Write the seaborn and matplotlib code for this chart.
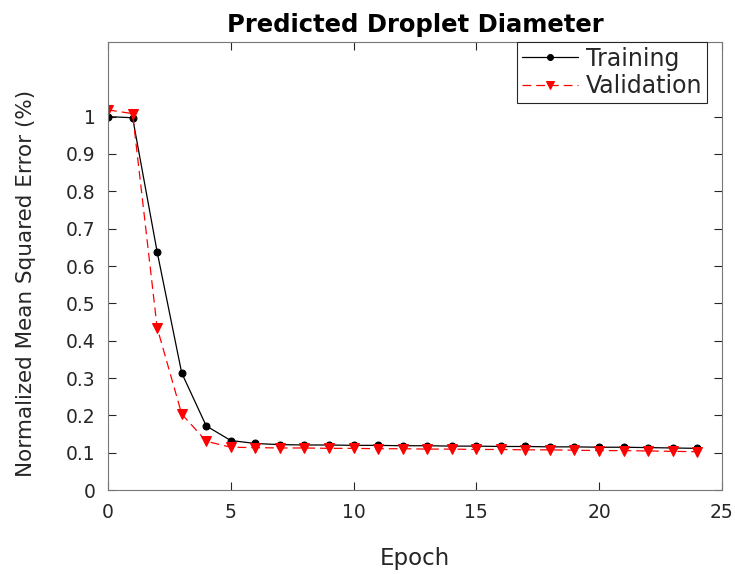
import numpy as np
import pandas as pd
import matplotlib
matplotlib.use("Agg")
import matplotlib.pyplot as plt
import seaborn as sns

epochs = list(range(25))
training = [1.0, 0.997, 0.638, 0.314, 0.172, 0.133, 0.125, 0.122, 0.121, 0.121, 0.120, 0.120,
            0.119, 0.119, 0.118, 0.118, 0.117, 0.117, 0.116, 0.116, 0.115, 0.115, 0.114, 0.113, 0.112]
validation = [1.018, 1.008, 0.435, 0.204, 0.131, 0.115, 0.114, 0.113, 0.113, 0.112, 0.112, 0.111,
              0.111, 0.110, 0.110, 0.109, 0.109, 0.108, 0.108, 0.107, 0.106, 0.106, 0.105, 0.104, 0.103]

df = pd.DataFrame({"Epoch": epochs * 2,
                   "Error": training + validation,
                   "Series": ["Training"] * 25 + ["Validation"] * 25})

sns.set_style("white")
plt.rcParams['font.family'] = ['DejaVu Sans']

fig = plt.figure(figsize=(7.35, 5.74), dpi=100)
ax = fig.add_axes([0.147, 0.146, 0.835, 0.781])

sns.lineplot(data=df[df.Series == "Training"], x="Epoch", y="Error", ax=ax,
             color="black", linewidth=0.9, marker="o", markersize=5,
             markeredgecolor="black", label="Training")
sns.lineplot(data=df[df.Series == "Validation"], x="Epoch", y="Error", ax=ax,
             color="#ff0000", linewidth=0.9, linestyle=(0, (7, 4)), marker="v", markersize=7,
             markeredgecolor="#ff0000", label="Validation")

ax.set_xlim(0, 25)
ax.set_ylim(0, 1.2)
ax.set_xticks([0, 5, 10, 15, 20, 25])
ax.set_yticks(np.round(np.arange(0, 1.01, 0.1), 1))
ax.set_yticklabels(["0", "0.1", "0.2", "0.3", "0.4", "0.5", "0.6", "0.7", "0.8", "0.9", "1"])
ax.tick_params(direction="in", length=6, width=0.8, color="#262626", labelsize=13.5,
               labelcolor="#262626", top=True, right=True, left=True, bottom=True, pad=9)
for s in ax.spines.values():
    s.set_visible(True)
    s.set_color("#777777")
    s.set_linewidth(0.8)

ax.set_xlabel("Epoch", fontsize=16.5, color="#262626", labelpad=18)
ax.set_ylabel("Normalized Mean Squared Error (%)", fontsize=15.5, color="#262626")
ax.yaxis.set_label_coords(-0.117, 0.462)
ax.set_title("Predicted Droplet Diameter", fontsize=17.5, fontweight="bold", color="black", pad=7)

leg = ax.legend(loc="upper right", bbox_to_anchor=(0.9756, 1.0), fontsize=17, frameon=True,
                fancybox=False, framealpha=1, edgecolor="#262626", borderpad=0.2,
                labelspacing=0.16, handlelength=2.4, handletextpad=0.3, borderaxespad=0,
                markerscale=0.85)
leg.get_frame().set_linewidth(0.8)

fig.savefig("out.png", dpi=100)
